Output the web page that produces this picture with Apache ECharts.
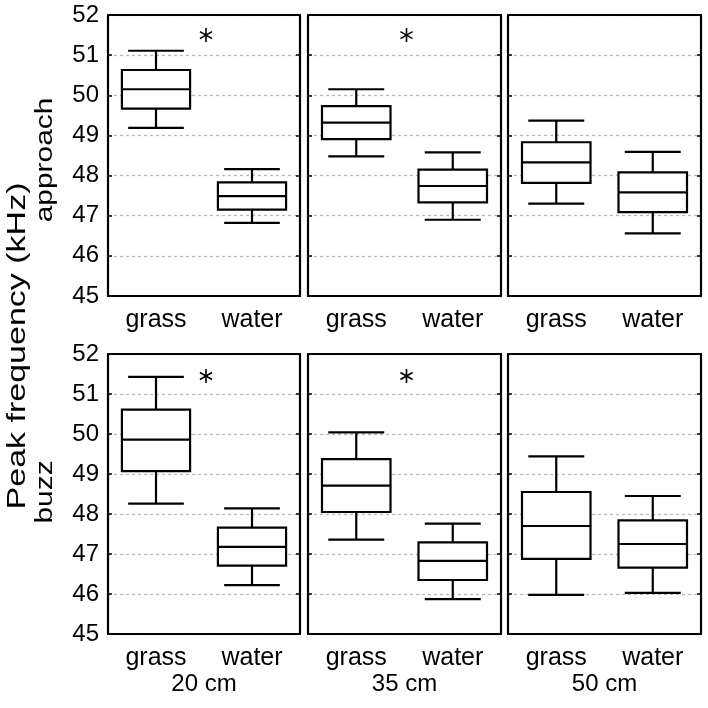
<!DOCTYPE html>
<html>
<head>
<meta charset="utf-8">
<script src="https://cdn.jsdelivr.net/npm/echarts@6/dist/echarts.min.js"></script>
<style>
  html, body { margin: 0; padding: 0; background: #fff; }
  #chart { width: 708px; height: 708px; }
</style>
</head>
<body>
<div id="chart"></div>
<script>
// categories and panels
const categories = ['grass', 'water']
const distances = ['20 cm', '35 cm', '50 cm']
const phases = ['approach', 'buzz']
const yMin = 45
const yMax = 52
const yStep = 1

// [whisker low, q1, median, q3, whisker high] for grass, water
const approach20 = [[49.19, 49.67, 50.15, 50.63, 51.11], [46.82, 47.15, 47.49, 47.83, 48.16]]
const approach35 = [[48.48, 48.91, 49.32, 49.73, 50.15], [46.90, 47.33, 47.74, 48.15, 48.58]]
const approach50 = [[47.30, 47.82, 48.33, 48.83, 49.37], [46.56, 47.09, 47.58, 48.08, 48.59]]
const buzz20 = [[48.26, 49.07, 49.86, 50.61, 51.43], [46.22, 46.71, 47.18, 47.66, 48.14]]
const buzz35 = [[47.36, 48.05, 48.71, 49.37, 50.04], [45.87, 46.35, 46.83, 47.29, 47.76]]
const buzz50 = [[45.98, 46.88, 47.70, 48.55, 49.44], [46.03, 46.66, 47.25, 47.84, 48.45]]

// height of the significance asterisk (null = not significant)
const starApproach = [51.5, 51.5, null]
const starBuzz = [51.45, 51.45, null]

const panels = [
  [approach20, approach35, approach50],
  [buzz20, buzz35, buzz50],
]
const stars = [starApproach, starBuzz]

const FONT = '"Liberation Sans", Arial, sans-serif'
const cols = [{ left: 108, width: 192 }, { left: 308, width: 193 }, { left: 508, width: 193 }]
const rows = [{ top: 15, height: 281 }, { top: 354, height: 280 }]

const lineStyle = { stroke: '#000', lineWidth: 2.2 }

function renderBox(params, api) {
  const c = api.value(0)
  const lo = api.coord([c, api.value(1)])
  const q1 = api.coord([c, api.value(2)])
  const md = api.coord([c, api.value(3)])
  const q3 = api.coord([c, api.value(4)])
  const hi = api.coord([c, api.value(5)])
  const band = api.size([1, 0])[0]
  const bw = band * 0.71
  const cw = band * 0.58
  const cx = md[0]
  const seg = (x1, y1, x2, y2) => ({ type: 'line', shape: { x1, y1, x2, y2 }, style: lineStyle })
  return {
    type: 'group',
    children: [
      seg(cx, hi[1], cx, q3[1]),
      seg(cx, q1[1], cx, lo[1]),
      seg(cx - cw / 2, hi[1], cx + cw / 2, hi[1]),
      seg(cx - cw / 2, lo[1], cx + cw / 2, lo[1]),
      {
        type: 'rect',
        shape: { x: cx - bw / 2, y: q3[1], width: bw, height: q1[1] - q3[1] },
        style: { fill: '#fff', stroke: '#000', lineWidth: 2.2 },
      },
      seg(cx - bw / 2, md[1], cx + bw / 2, md[1]),
    ],
  }
}

function renderStar(params, api) {
  const y = api.value(0)
  const a = api.coord([0, y])
  const b = api.coord([1, y])
  const cx = (a[0] + b[0]) / 2 + 2
  const cy = a[1]
  const r = 7
  const children = []
  for (const deg of [90, 30, 150]) {
    const t = deg * Math.PI / 180
    children.push({
      type: 'line',
      shape: { x1: cx - r * Math.cos(t), y1: cy - r * Math.sin(t), x2: cx + r * Math.cos(t), y2: cy + r * Math.sin(t) },
      style: { stroke: '#000', lineWidth: 1.6 },
    })
  }
  return { type: 'group', children }
}

const grid = []
const xAxis = []
const yAxis = []
const series = []

rows.forEach((row, r) => {
  cols.forEach((col, c) => {
    const g = grid.length
    grid.push({ left: col.left, width: col.width, top: row.top, height: row.height, containLabel: false })

    xAxis.push({
      type: 'category', gridIndex: g, data: categories, position: 'bottom',
      axisLine: { lineStyle: { color: '#000', width: 2.2 } },
      axisTick: { inside: true, alignWithLabel: true, length: 4, lineStyle: { color: '#000', width: 1.5 } },
      axisLabel: { color: '#000', fontSize: 25, fontFamily: FONT, margin: 12 },
      name: r === 1 ? distances[c] : '', nameLocation: 'middle', nameGap: 38,
      nameTextStyle: { color: '#000', fontSize: 24, fontFamily: FONT },
    })
    xAxis.push({
      type: 'category', gridIndex: g, data: categories, position: 'top',
      axisLine: { lineStyle: { color: '#000', width: 2.2 } },
      axisTick: { inside: true, alignWithLabel: true, length: 4, lineStyle: { color: '#000', width: 1.5 } },
      axisLabel: { show: false },
    })
    yAxis.push({
      type: 'value', gridIndex: g, min: yMin, max: yMax, interval: yStep, position: 'left',
      axisLine: { show: true, lineStyle: { color: '#000', width: 2.2 } },
      axisTick: { show: true, inside: true, length: 4, lineStyle: { color: '#000', width: 1.5 } },
      axisLabel: { show: c === 0, color: '#000', fontSize: 24, fontFamily: FONT, margin: 9 },
      splitLine: {
        show: true,
        lineStyle: { color: '#b8b8b8', width: 1.3, type: [3, 3] },
      },
    })
    yAxis.push({
      type: 'value', gridIndex: g, min: yMin, max: yMax, interval: yStep, position: 'right',
      axisLine: { show: true, lineStyle: { color: '#000', width: 2.2 } },
      axisTick: { show: true, inside: true, length: 4, lineStyle: { color: '#000', width: 1.5 } },
      axisLabel: { show: false },
      splitLine: { show: false },
    })

    series.push({
      type: 'custom', xAxisIndex: 2 * g, yAxisIndex: 2 * g,
      renderItem: renderBox,
      encode: { x: 0, y: [1, 2, 3, 4, 5] },
      data: panels[r][c].map((v, i) => [categories[i], ...v]),
      silent: true, animation: false,
    })
    if (stars[r][c] != null) {
      series.push({
        type: 'custom', xAxisIndex: 2 * g, yAxisIndex: 2 * g,
        renderItem: renderStar,
        encode: { y: 0 },
        data: [[stars[r][c]]],
        silent: true, animation: false,
      })
    }
  })
})

// vertical labels, stretched along their length like the original figure
function vText(text, x, y, size, stretch) {
  return {
    type: 'text', x, y, rotation: Math.PI / 2, scaleX: stretch, silent: true,
    style: { text, fill: '#000', font: size + 'px ' + FONT, align: 'center', verticalAlign: 'middle' },
  }
}

const chart = echarts.init(document.getElementById('chart'))
chart.setOption({
  animation: false,
  backgroundColor: '#fff',
  textStyle: { fontFamily: FONT },
  grid, xAxis, yAxis, series,
  graphic: [
    vText('Peak frequency (kHz)', 18, 346, 25, 1.36),
    vText(phases[0], 46, 160, 23, 1.3),
    vText(phases[1], 46, 492, 23, 1.3),
  ],
})
</script>
</body>
</html>
